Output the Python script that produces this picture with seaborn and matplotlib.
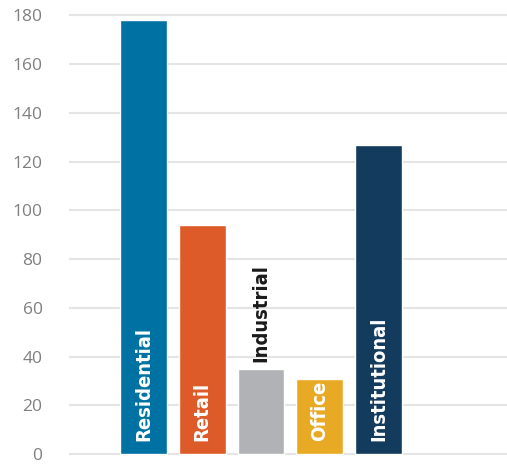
import matplotlib
matplotlib.use("Agg")
import matplotlib.pyplot as plt
import seaborn as sns
import pandas as pd

categories = ["Residential", "Retail", "Industrial", "Office", "Institutional"]
values = [178, 94, 35, 31, 127]
colors = ["#0071a3", "#dd5a29", "#b1b2b5", "#e8aa24", "#123b5e"]
label_inside = [True, True, False, True, True]
yticks = [0, 20, 40, 60, 80, 100, 120, 140, 160, 180]

sns.set_theme(style="white")
plt.rcParams['font.family'] = ['Open Sans', 'DejaVu Sans']

df = pd.DataFrame({"cat": categories, "val": values})

fig = plt.figure(figsize=(5.07, 4.65), dpi=100)
ax = fig.add_axes([69/507, 6.0/465, 1 - 69/507, (460.9 - 12.5)/465])
sns.barplot(data=df, x="cat", y="val", hue="cat", palette=colors, legend=False,
            width=0.8, saturation=1, ax=ax, zorder=3)

ax.set_ylim(-2, 182)
ax.set_xlim(-1.27, 6.19)
ax.set_yticks(yticks)
ax.set_yticklabels([str(t) for t in yticks], color="#7f7f7f", fontsize=12.5)
ax.tick_params(axis="y", length=0, pad=19)
ax.set_xticks([])
ax.set_xlabel("")
ax.set_ylabel("")
for s in ax.spines.values():
    s.set_visible(False)
ax.grid(axis="y", color="#e4e4e4", linewidth=1.5, zorder=0)
ax.set_axisbelow(True)

for i, (c, v, inside) in enumerate(zip(categories, values, label_inside)):
    if inside:
        ax.text(i, 5.5, c, rotation=90, ha="center", va="bottom", color="white",
                fontsize=14.5, fontweight="bold", family=["DejaVu Sans"], fontstretch="condensed", zorder=4)
    else:
        ax.text(i, v + 3, c, rotation=90, ha="center", va="bottom", color="#1a1a1a",
                fontsize=14.5, fontweight="bold", family=["DejaVu Sans"], fontstretch="condensed", zorder=4)

fig.savefig("out.png", dpi=100)
